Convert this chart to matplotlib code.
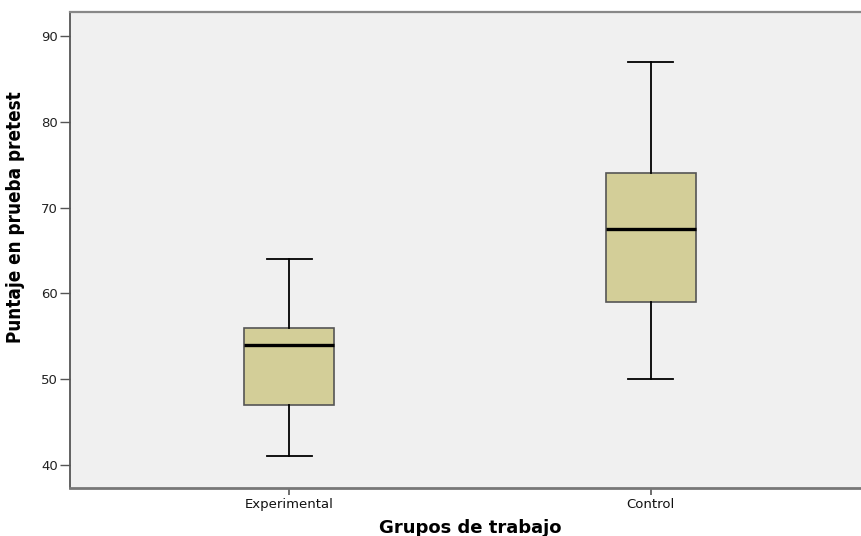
import matplotlib
matplotlib.use("Agg")
import matplotlib.pyplot as plt

# Five-number summaries per group
groups = ["Experimental", "Control"]
whisker_low = [41, 50]
q1 = [47, 59]
median = [54, 67.5]
q3 = [56, 74]
whisker_high = [64, 87]

yticks = [40, 50, 60, 70, 80, 90]

stats = []
for i, g in enumerate(groups):
    stats.append(dict(label=g, whislo=whisker_low[i], q1=q1[i], med=median[i],
                      q3=q3[i], whishi=whisker_high[i], fliers=[]))

fig = plt.figure(figsize=(8.61, 5.36), dpi=100)
ax = fig.add_axes([70 / 861, 48 / 536, 1 - 70 / 861 + 0.01, 476 / 536])
ax.set_facecolor("#F0F0F0")

positions = [1, 2]
bp = ax.bxp(stats, positions=positions, widths=0.25, patch_artist=True,
            showfliers=False, whiskerprops=dict(color="black", linewidth=1.3),
            capprops=dict(color="black", linewidth=1.3),
            medianprops=dict(color="black", linewidth=2.4),
            boxprops=dict(facecolor="#D3CE98", edgecolor="#555555", linewidth=1.2))
for cap in bp["caps"]:
    x0, x1 = cap.get_xdata()
    c = (x0 + x1) / 2
    cap.set_xdata([c - 0.0625, c + 0.0625])

ax.set_xlim(0.394, 2.605)
ax.set_ylim(37.3, 92.8)
ax.set_yticks(yticks)
ax.set_yticklabels([str(v) for v in yticks], fontsize=9.5, color="#222222")
ax.set_xticks(positions)
ax.set_xticklabels(groups, fontsize=9.5, color="#111111")
ax.tick_params(axis="y", direction="out", length=7.5, width=1, color="#555555", pad=1)
ax.tick_params(axis="x", direction="out", length=5, width=1.2, color="#555555", pad=2)

ax.spines["right"].set_visible(False)
ax.spines["left"].set_color("#555555")
ax.spines["left"].set_linewidth(1.3)
ax.spines["bottom"].set_color("#777777")
ax.spines["bottom"].set_linewidth(2)
ax.spines["top"].set_color("#888888")
ax.spines["top"].set_linewidth(1.6)

ax.set_ylabel("Puntaje en prueba pretest", fontsize=13.5, fontweight="bold",
              fontstretch="condensed")
ax.yaxis.set_label_coords(-0.056, 0.569)
ax.set_xlabel("Grupos de trabajo", fontsize=13, fontweight="bold", labelpad=6)

fig.savefig("out.png", dpi=100)
